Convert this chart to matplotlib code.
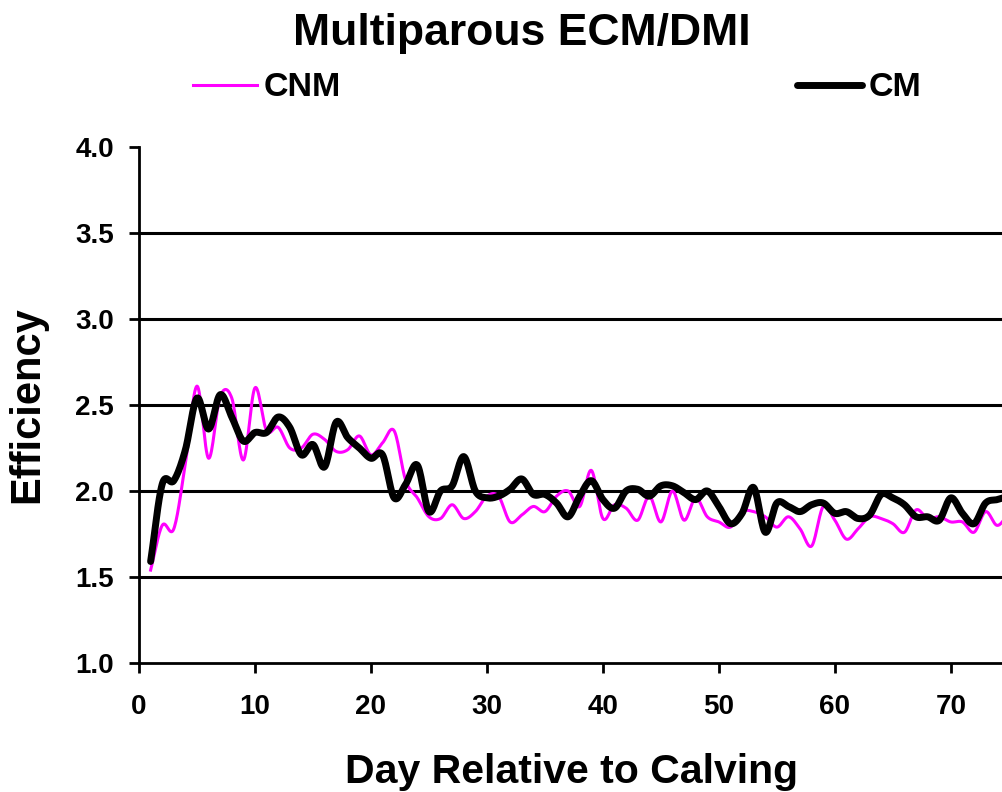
import numpy as np
import matplotlib
matplotlib.use('Agg')
from matplotlib import pyplot as plt

plt.rcParams['font.family'] = ['Liberation Sans', 'DejaVu Sans']
plt.rcParams['font.weight'] = 'bold'

days = np.arange(1, 76)

# CNM (magenta) efficiency by day
cnm = [1.54, 1.80, 1.78, 2.16, 2.61, 2.19, 2.55, 2.54, 2.18, 2.60,
       2.35, 2.37, 2.25, 2.25, 2.33, 2.30, 2.23, 2.24, 2.32, 2.21,
       2.28, 2.35, 2.06, 1.96, 1.85, 1.84, 1.92, 1.84, 1.88, 1.97,
       1.97, 1.82, 1.86, 1.91, 1.88, 1.97, 2.00, 1.91, 2.12, 1.84,
       1.92, 1.90, 1.83, 1.97, 1.82, 2.00, 1.83, 1.96, 1.85, 1.82,
       1.79, 1.88, 1.88, 1.85, 1.79, 1.85, 1.78, 1.68, 1.91, 1.83,
       1.72, 1.78, 1.85, 1.84, 1.81, 1.76, 1.89, 1.84, 1.85, 1.82,
       1.82, 1.76, 1.88, 1.80, 1.87]

# CM (black) efficiency by day
cm = [1.59, 2.04, 2.06, 2.24, 2.54, 2.36, 2.56, 2.43, 2.29, 2.34,
      2.34, 2.43, 2.37, 2.21, 2.27, 2.14, 2.40, 2.31, 2.25, 2.19,
      2.21, 1.96, 2.04, 2.15, 1.88, 2.00, 2.03, 2.20, 2.00, 1.96,
      1.97, 2.01, 2.07, 1.98, 1.98, 1.93, 1.85, 1.97, 2.06, 1.95,
      1.90, 2.00, 2.01, 1.97, 2.03, 2.03, 1.99, 1.95, 2.00, 1.91,
      1.81, 1.87, 2.02, 1.76, 1.93, 1.91, 1.88, 1.92, 1.93, 1.87,
      1.88, 1.84, 1.86, 1.98, 1.96, 1.92, 1.85, 1.85, 1.83, 1.96,
      1.87, 1.81, 1.93, 1.95, 1.97]


def smooth(x, y, n=16):
    # catmull-rom curve through the points, like Excel's smoothed line
    x = np.asarray(x, float)
    y = np.asarray(y, float)
    px = np.concatenate([[2 * x[0] - x[1]], x, [2 * x[-1] - x[-2]]])
    py = np.concatenate([[2 * y[0] - y[1]], y, [2 * y[-1] - y[-2]]])
    xs, ys = [], []
    t = np.linspace(0, 1, n, endpoint=False)
    for i in range(1, len(px) - 2):
        for p, out in ((px, xs), (py, ys)):
            p0, p1, p2, p3 = p[i - 1], p[i], p[i + 1], p[i + 2]
            out.extend(0.5 * ((2 * p1) + (-p0 + p2) * t
                              + (2 * p0 - 5 * p1 + 4 * p2 - p3) * t ** 2
                              + (-p0 + 3 * p1 - 3 * p2 + p3) * t ** 3))
    xs.append(x[-1])
    ys.append(y[-1])
    return xs, ys


fig = plt.figure(figsize=(10.03, 7.92), dpi=100)
ax = fig.add_axes([0.1386, 0.1629, 0.8614, 0.6515])

for v in [1.5, 2.0, 2.5, 3.0, 3.5]:
    ax.axhline(v, color='black', lw=2.2, zorder=1)

sx, sy = smooth(days, cnm)
l1, = ax.plot(sx, sy, color='#ff00ff', lw=2.2, zorder=2, label='CNM')
sx, sy = smooth(days, cm)
l2, = ax.plot(sx, sy, color='black', lw=5, zorder=3, label='CM',
              solid_capstyle='round', solid_joinstyle='round')

ax.set_xlim(0, 74.5)
ax.set_ylim(1.0, 4.0)
ax.set_xticks(np.arange(0, 80, 10))
ax.set_yticks(np.arange(1.0, 4.01, 0.5))
ax.set_yticklabels(['%.1f' % v for v in np.arange(1.0, 4.01, 0.5)])
ax.tick_params(axis='both', labelsize=20, width=2, length=7)
ax.tick_params(axis='y', pad=11)
ax.tick_params(axis='x', pad=15)

ax.spines['top'].set_visible(False)
ax.spines['right'].set_visible(False)
ax.spines['left'].set_linewidth(2)
ax.spines['bottom'].set_linewidth(2)

ax.set_xlabel('Day Relative to Calving', fontsize=29.5, fontweight='bold', labelpad=24)
ax.set_ylabel('Efficiency', fontsize=30, fontweight='bold', labelpad=20)
fig.suptitle('Multiparous ECM/DMI', fontsize=32, fontweight='bold', x=0.52, y=0.983)

fig.legend(handles=[l1, l2], loc='center left', bbox_to_anchor=(0.192, 0.889),
           ncol=2, frameon=False, fontsize=24.5, handlelength=1.9, handletextpad=0.2,
           columnspacing=13.4, borderpad=0, borderaxespad=0)

fig.savefig('out.png', dpi=100)
